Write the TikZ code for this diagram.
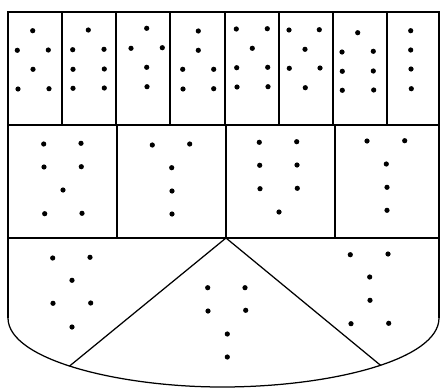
\documentclass[tikz,border=0pt]{standalone}
\begin{document}
\begin{tikzpicture}[x=1pt,y=-1pt,line width=1.25pt,line join=miter,
  dotmark/.style={fill=black,draw=none}]
\useasboundingbox (0,0) rectangle (441,388);
\coordinate (apex) at (226,238);
% outline of the shield
\draw (8,318) -- (8,12) -- (439,12) -- (439,318);
\draw (8,318) .. controls (8,360) and (120,387) .. (222,387)
  .. controls (330,387) and (439,360) .. (439,318);
\path (8,318) .. controls (8,360) and (120,387) .. (222,387) coordinate[pos=0.47] (bl);
\path (222,387) .. controls (330,387) and (439,360) .. (439,318) coordinate[pos=0.54] (br);
% horizontal dividers
\draw (8,125) -- (439,125);
\draw (8,238) -- (439,238);
% vertical dividers
\foreach \x in {62,116,170,225,279,333,387} \draw (\x,12) -- (\x,125);
\foreach \x in {117,226,335} \draw (\x,125) -- (\x,238);
% triangle
\draw (bl) -- (apex) -- (br);
% dots
\foreach \p in {
  (32.7,30.7),(17.3,50.3),(48.3,50),(33,69.3),(18,89),(49,88.7),
  (88.3,30),(72.7,49.7),(104,49.3),(73,69.3),(104.3,69),(73,88.3),(104.3,88),
  (146.7,28.3),(131,48.3),(162.3,47.7),(146.7,67.3),(147,86.7),
  (198.3,31),(198.3,50.3),(182.7,69.3),(213.7,69.3),(183,89),(213.7,88.7),
  (236.3,29),(267.3,28.7),(252.3,48.3),(236.7,67.7),(267.7,67.3),(237,87),(268,86.7),
  (289,30),(319.3,29.7),(305,49.3),(289.3,68.3),(320,68),(305.3,87.7),
  (357.7,32.7),(342,52),(373.3,51.3),(342.3,71.3),(373.3,71),(342.3,90.3),(373.7,90),
  (410.7,30.7),(410.7,50),(411,69),(411.3,88.7),
  (43.7,144),(81,143.3),(44,167),(81.3,166.7),(63,190),(44.7,213.7),(82,213.3),
  (152.3,145),(189.7,144),(171.7,167.7),(172,191),(172,214),
  (259.3,142.3),(296.7,141.7),(259.7,165.3),(297,165),(260,188.7),(297.3,188.3),(279,212),
  (367,141),(404.7,140.7),(386.3,164),(387,187.3),(387,210.3),
  (52.7,258),(90,257.3),(72,280.3),(53,303.3),(90.7,303),(72,327),
  (207.7,287.7),(208,311),(245,287.7),(245.7,310.3),(227.3,334),(227.3,357),
  (350.3,254.7),(388,254),(369.7,277),(370,300.3),(351,323.7),(388.7,323.3)}
  \fill[dotmark] \p circle (2.6);
\end{tikzpicture}
\end{document}
